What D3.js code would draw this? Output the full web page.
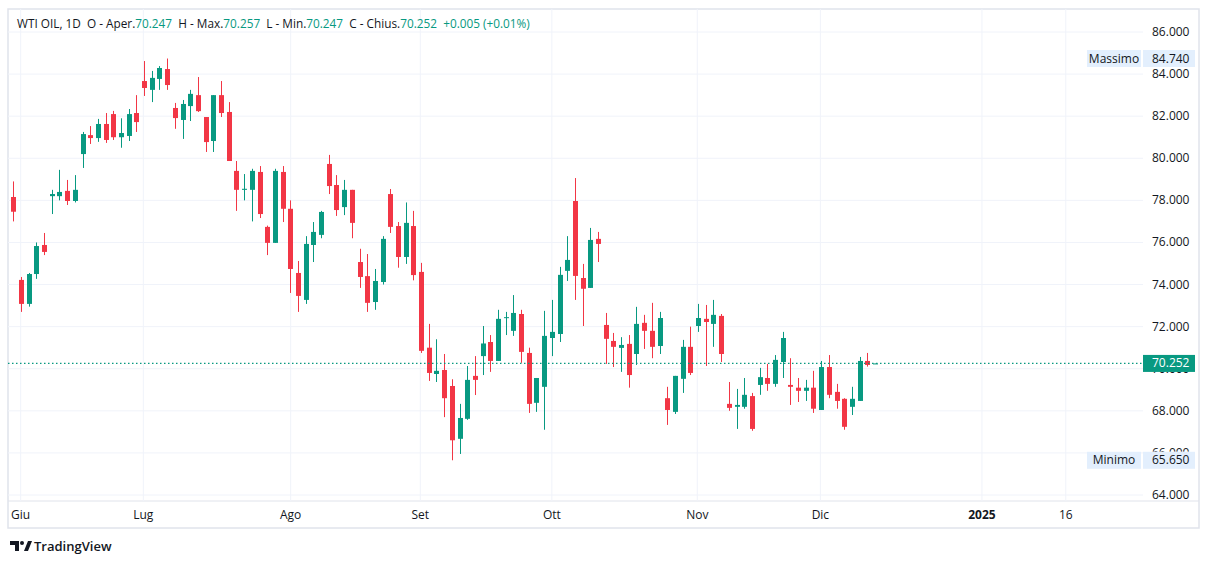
<!DOCTYPE html>
<html><head><meta charset="utf-8">
<script src="https://cdn.jsdelivr.net/npm/d3@7"></script>
<style>body{margin:0;background:#fff;}text{font-family:"Open Sans","Noto Sans",sans-serif;}</style>
</head><body><svg id="c" width="1209" height="564"></svg>
<script>
const opens  = [78.16,74.22,73.08,74.5,75.88,78.2,78.2,78.45,77.97,80.2,81.1,80.96,81.63,82.1,81.0,81.06,82.15,83.67,83.25,83.77,84.24,82.39,81.82,82.48,83.0,81.96,80.82,83.0,82.2,79.4,78.5,78.5,79.35,76.74,75.98,79.35,77.6,74.55,73.27,75.88,76.36,79.73,78.73,77.68,78.5,75.07,74.4,73.17,74.12,78.3,76.78,75.31,76.78,74.6,71.0,69.75,69.94,69.18,66.67,67.62,69.66,70.6,71.27,70.37,72.42,71.8,72.6,70.75,68.38,69.14,71.46,71.65,74.65,77.97,74.31,73.84,76.17,72.08,71.32,70.99,71.18,70.7,72.18,71.8,71.08,68.6,67.95,69.52,71.04,72.03,72.37,72.13,72.51,68.33,68.19,68.19,68.7,69.23,69.56,69.28,70.32,69.23,69.1,68.95,69.1,68.04,70.08,68.9,68.57,68.19,68.47,70.37,70.247];
const highs  = [78.9,74.36,74.55,76.0,76.45,78.5,79.45,78.97,79.2,81.25,81.53,81.87,82.15,82.25,81.9,82.34,83.0,84.62,84.15,84.38,84.74,82.63,82.77,83.25,83.86,81.96,83.0,83.67,82.67,79.87,79.25,79.5,79.63,76.8,79.5,79.63,78.0,75.12,76.3,76.97,77.5,80.16,79.2,78.97,78.5,75.7,75.45,74.74,76.3,78.54,76.97,77.9,77.5,75.03,72.13,71.4,70.7,69.5,68.33,70.13,70.6,72.03,71.6,72.8,72.7,73.5,72.8,71.0,69.56,72.75,73.27,74.84,76.3,79.06,74.98,76.69,76.5,72.65,71.7,71.5,71.6,72.94,72.56,73.13,72.7,69.14,69.66,71.37,72.0,73.08,73.03,73.27,72.6,69.37,69.04,69.56,68.85,70.04,70.23,70.65,71.75,70.5,69.56,69.47,69.9,70.37,70.65,69.28,68.6,69.14,70.56,70.75,70.257];
const lows   = [77.0,72.7,72.95,74.27,75.4,77.35,78.0,77.78,77.9,79.54,80.68,80.78,80.73,80.87,80.5,80.82,81.25,82.96,82.67,83.25,83.25,81.4,80.92,81.77,82.2,80.3,80.3,81.96,79.87,77.5,78.0,77.0,77.16,75.4,75.98,76.97,73.6,72.7,73.08,75.07,76.2,78.3,77.26,77.3,76.2,73.84,72.7,72.8,74.0,76.45,74.8,74.98,74.2,70.75,69.42,69.37,67.7,65.65,65.95,67.57,68.75,69.7,69.85,70.37,71.6,71.56,70.28,67.9,67.95,67.1,70.6,71.27,74.17,73.27,72.03,73.84,75.07,70.23,70.08,69.85,69.1,70.18,70.94,70.5,70.7,67.33,67.85,68.85,69.7,71.75,70.13,71.04,70.32,68.0,67.14,68.1,67.05,68.76,68.95,69.14,69.56,68.28,68.42,68.47,67.9,68.04,68.6,68.1,67.1,67.8,68.47,70.1,70.247];
const closes = [77.46,73.08,74.5,75.83,75.55,78.3,78.4,77.97,78.5,81.15,80.96,81.63,80.87,81.0,81.2,82.1,81.72,83.34,83.82,84.29,83.48,81.91,82.58,83.06,82.24,80.77,83.0,82.15,79.87,78.5,78.55,79.4,77.35,75.98,79.4,77.6,74.74,73.46,75.93,76.5,77.45,78.68,77.54,78.5,76.93,74.36,73.13,74.17,76.17,76.74,75.31,76.93,74.45,70.85,69.8,69.9,68.6,66.6,67.66,69.47,69.47,71.2,70.37,72.37,72.45,72.65,70.8,68.33,69.56,71.56,71.75,74.46,75.17,74.41,73.8,76.12,75.93,71.42,71.04,71.13,69.7,72.13,71.8,71.04,72.41,68.04,69.66,71.04,69.8,72.41,72.22,72.56,70.7,68.14,68.28,68.76,67.14,69.6,69.28,70.42,71.46,69.14,68.95,69.1,68.1,70.08,68.76,68.47,67.24,68.57,70.37,70.18,70.252];
const monthLabels = ["Giu","Lug","Ago","Set","Ott","Nov","Dic","2025","16"];
const monthPos    = [0.96,16.9,36.05,52.9,70.0,88.9,104.9,125.9,136.8];
const priceTicks  = [64,66,68,70,72,74,76,78,80,82,84,86];
const lastPrice = 70.252, maxPrice = 84.74, minPrice = 65.65;

const UP="#089981", DOWN="#f23645";
const svg=d3.select("#c");
const L=8,R=1143,T=9,B=501;
const x=d3.scaleLinear().domain([0,112]).range([13.3,875]);
const y=d3.scaleLinear().domain([64,86]).range([495,32]);
svg.append("rect").attr("x",8).attr("y",9).attr("width",1191).attr("height",519).attr("fill","none").attr("stroke","#e0e3eb").attr("stroke-width",1.5);
svg.append("line").attr("x1",L).attr("x2",1199).attr("y1",B).attr("y2",B).attr("stroke","#e0e3eb");
const g=svg.append("g");
priceTicks.forEach(v=>g.append("line").attr("x1",L).attr("x2",R).attr("y1",y(v)).attr("y2",y(v)).attr("stroke","#f0f3fa"));
monthPos.forEach(p=>g.append("line").attr("x1",x(p)).attr("x2",x(p)).attr("y1",T).attr("y2",B).attr("stroke","#f0f3fa"));
// price labels (hide those covered by tags)
const tags=[lastPrice,minPrice];
svg.append("clipPath").attr("id","cl66").append("rect").attr("x",1140).attr("y",0).attr("width",70).attr("height",y(minPrice)-8.5);
priceTicks.forEach(v=>{
  const d=Math.min(...tags.map(t=>Math.abs(y(t)-y(v))));
  if(d<5) return;
  const t=svg.append("text").attr("x",1152).attr("y",y(v)+4).attr("font-size",12).attr("fill","#131722").text(v.toFixed(3));
  if(d<14) t.attr("clip-path","url(#cl66)");
});
monthLabels.forEach((m,i)=>svg.append("text").attr("x",x(monthPos[i])).attr("y",519).attr("text-anchor","middle").attr("font-size",12).attr("font-weight",m==="2025"?"bold":"normal").attr("fill","#131722").text(m));
const bw=5;
opens.forEach((o,i)=>{
  const c=closes[i], col=c>=o?UP:DOWN, cx=Math.round(x(i))+0.5;
  g.append("line").attr("x1",cx).attr("x2",cx).attr("y1",y(highs[i])).attr("y2",y(lows[i])).attr("stroke",col).attr("stroke-width",1);
  const top=y(Math.max(o,c)), h=Math.max(1,y(Math.min(o,c))-top);
  g.append("rect").attr("x",cx-bw/2).attr("y",top).attr("width",bw).attr("height",h).attr("fill",col);
});
svg.append("line").attr("x1",L).attr("x2",R).attr("y1",y(lastPrice)).attr("y2",y(lastPrice)).attr("stroke",UP).attr("stroke-width",1.2).attr("stroke-dasharray","1.5,2.5");
function tag(v,label,bg,fg){
  const yy=y(v);
  svg.append("rect").attr("x",1143).attr("y",yy-8.5).attr("width",52).attr("height",17).attr("fill",bg);
  svg.append("text").attr("x",1152).attr("y",yy+4).attr("font-size",12).attr("fill",fg).text(v.toFixed(3));
  if(label){
    svg.append("rect").attr("x",1087).attr("y",yy-8.5).attr("width",54).attr("height",17).attr("fill",bg);
    svg.append("text").attr("x",1114).attr("y",yy+4).attr("font-size",12).attr("text-anchor","middle").attr("fill","#131722").text(label);
  }
}
tag(maxPrice,"Massimo","#e3effd","#131722");
tag(minPrice,"Minimo","#e3effd","#131722");
tag(lastPrice,null,UP,"#fff");
const ht=svg.append("text").attr("x",17).attr("y",28).attr("font-size",11.8).attr("fill","#131722").attr("style","white-space:pre");
[["WTI OIL, 1D  O - Aper.","#131722"],["70.247",UP],["  H - Max.","#131722"],["70.257",UP],["  L - Min.","#131722"],["70.247",UP],["  C - Chius.","#131722"],["70.252",UP],["  +0.005 (+0.01%)",UP]]
 .forEach(([t,c])=>ht.append("tspan").attr("fill",c).text(t));
svg.append("path").attr("d","M10 541h9v10h-4v-6h-5z").attr("fill","#131722");
svg.append("circle").attr("cx",22).attr("cy",543).attr("r",2).attr("fill","#131722");
svg.append("path").attr("d","M24 551l4-10h4l-4 10z").attr("fill","#131722");
svg.append("text").attr("x",34).attr("y",551).attr("font-size",13).attr("font-weight",600).attr("fill","#131722").text("TradingView");
</script></body></html>
